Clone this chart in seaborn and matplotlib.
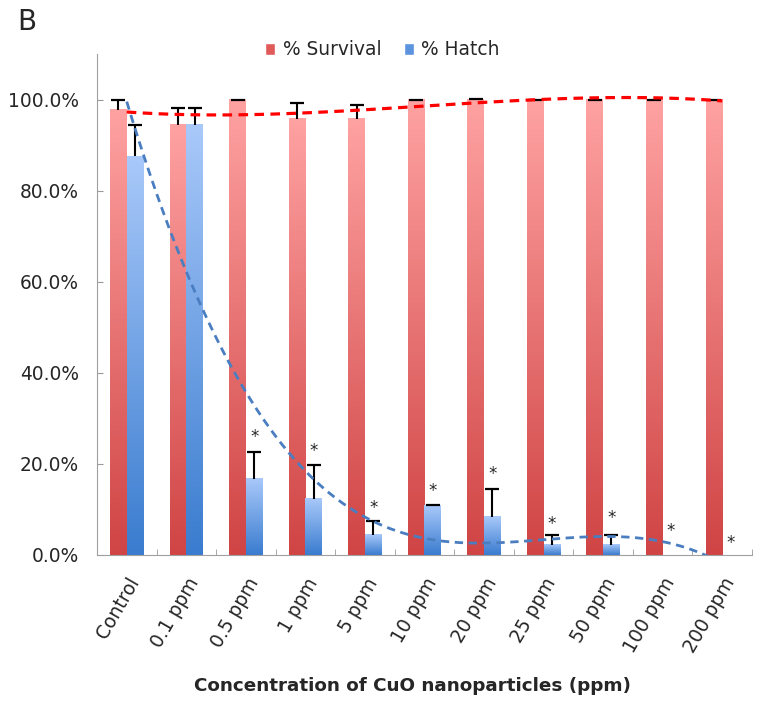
import numpy as np
import pandas as pd
import matplotlib
matplotlib.use("Agg")
import matplotlib.pyplot as plt
import seaborn as sns
from matplotlib.colors import LinearSegmentedColormap
from matplotlib.patches import Patch
from matplotlib.ticker import FuncFormatter, FixedLocator

# Data
categories = ["Control", "0.1 ppm", "0.5 ppm", "1 ppm", "5 ppm", "10 ppm",
              "20 ppm", "25 ppm", "50 ppm", "100 ppm", "200 ppm"]
survival = [97.8, 94.5, 100.0, 95.8, 95.8, 100.0, 100.0, 100.0, 100.0, 100.0, 100.0]
survival_err = [2.0, 3.7, 0.0, 3.5, 3.0, 0.0, 0.2, 0.0, 0.0, 0.0, 0.0]
hatch = [87.5, 94.5, 16.7, 12.3, 4.4, 10.8, 8.4, 2.2, 2.2, 0.0, 0.0]
hatch_err = [7.0, 3.7, 6.0, 7.5, 3.0, 0.2, 6.0, 2.2, 2.2, 0.0, 0.0]
# height of the significance asterisks (None = not significant)
star_y = [None, None, 25.9, 22.9, 10.3, 14.1, 17.8, 6.8, 8.1, 5.3, 2.6]

df = pd.DataFrame({
    "cat": categories * 2,
    "val": survival + hatch,
    "series": ["% Survival"] * len(categories) + ["% Hatch"] * len(categories),
})

sns.set_style("white")
plt.rcParams["font.family"] = ["DejaVu Sans"]

fig = plt.figure(figsize=(7.6, 7.05), dpi=100)
ax = fig.add_axes([0.1276, 0.2128, 0.8619, 0.7106])

red_cmap = LinearSegmentedColormap.from_list("r", ["#D04444", "#FFA2A2"])
blue_cmap = LinearSegmentedColormap.from_list("b", ["#3A7CCF", "#A9C9FA"])

sns.barplot(data=df, x="cat", y="val", hue="series", order=categories,
            palette=["#E86868", "#6FA0E6"], width=0.56, gap=0,
            errorbar=None, ax=ax, legend=False)

# gradient fill per bar + upward error bars
grad = np.linspace(0, 1, 256).reshape(-1, 1)
for cont, cmap, errs in zip(ax.containers, [red_cmap, blue_cmap], [survival_err, hatch_err]):
    for bar, e in zip(cont, errs):
        x0, w, h = bar.get_x(), bar.get_width(), bar.get_height()
        bar.set_facecolor("none")
        bar.set_edgecolor("none")
        if h > 0:
            ax.imshow(grad, cmap=cmap, origin="lower", aspect="auto",
                      extent=[x0, x0 + w, 0, h], zorder=1)
            ax.errorbar(x0 + w / 2, h, yerr=[[0], [e]], fmt="none", ecolor="black",
                        elinewidth=1.5, capsize=0, zorder=3)
            ax.plot(x0 + w / 2, h + e, marker="_", ms=9.5, mew=1.6, color="black", zorder=3)

# asterisks
for bar, sy in zip(ax.containers[1], star_y):
    if sy is not None:
        ax.text(bar.get_x() + bar.get_width() / 2, sy, "*",
                ha="center", va="center", fontsize=12)

# polynomial trendlines (order 3)
xs = np.arange(len(categories))
xf = np.linspace(0, len(categories) - 1, 300)
ps = np.polyfit(xs, survival, 3)
ph = np.polyfit(xs, hatch, 3)
ax.plot(xf, np.polyval(ps, xf), color="#FF0000", lw=2.3, ls=(0, (3, 2)), zorder=4)
ax.plot(xf, np.polyval(ph, xf), color="#4A7EC0", lw=2.0, ls=(0, (3, 2)), zorder=4)

ax.set_xlim(-0.5, len(categories) - 0.5)
ax.set_ylim(0, 110)
ax.set_yticks(np.arange(0, 101, 20))
ax.yaxis.set_major_formatter(FuncFormatter(lambda v, p: f"{v:.1f}%"))
ax.set_xticks(np.arange(len(categories)))
ax.set_xticklabels(categories, rotation=60, ha="right", rotation_mode="anchor", fontsize=13.4)
ax.xaxis.set_minor_locator(FixedLocator(np.arange(len(categories)) + 0.5))
ax.tick_params(axis="x", which="major", length=0, pad=14)
ax.tick_params(axis="x", which="minor", direction="in", length=4, color="#999999", bottom=True)
ax.tick_params(axis="y", labelsize=13.4, direction="in", length=4, color="#999999",
               left=True, pad=13)
ax.set_xlabel("Concentration of CuO nanoparticles (ppm)", fontsize=13.2, fontweight="bold")
ax.xaxis.set_label_coords(0.482, -0.243)
ax.set_ylabel("")
for s in ["top", "right"]:
    ax.spines[s].set_visible(False)
for s in ["left", "bottom"]:
    ax.spines[s].set_color("#A0A0A0")

handles = [Patch(facecolor="#E05A5A"), Patch(facecolor="#5B93DF")]
ax.legend(handles, ["% Survival", "% Hatch"], loc="center", bbox_to_anchor=(0.436, 1.008),
          ncol=2, frameon=False, fontsize=13.4, handlelength=0.55, handleheight=0.55,
          handletextpad=0.4, columnspacing=1.2, borderaxespad=0)

fig.text(0.023, 1 - 30 / 705, "B", fontsize=20, va="baseline")

fig.savefig("out.png", dpi=100)
